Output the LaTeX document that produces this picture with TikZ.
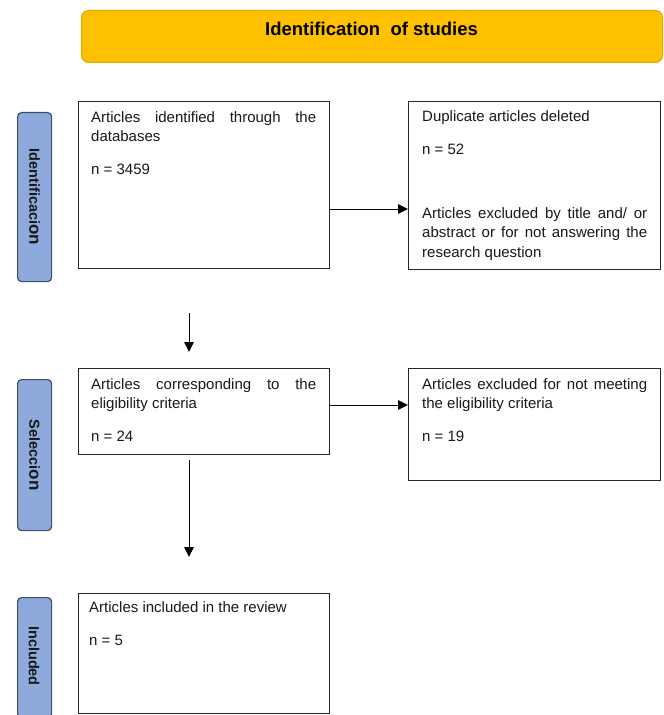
\documentclass[tikz,border=0pt]{standalone}
\usepackage{fontspec}
\setmainfont{Liberation Sans}
\usetikzlibrary{arrows.meta,calc}
\definecolor{hdrfill}{HTML}{FFC000}
\definecolor{hdrdraw}{HTML}{E0A800}
\definecolor{sidefill}{HTML}{8EA9DB}
\definecolor{sidedraw}{HTML}{3E4E6C}
\definecolor{boxdraw}{HTML}{262626}
\hyphenpenalty=10000
\exhyphenpenalty=10000
\begin{document}
\begin{tikzpicture}[x=1bp,y=-1bp,
  box/.style={draw=boxdraw, line width=1bp, fill=white, inner sep=0pt, anchor=north west},
  txt/.style={inner sep=0pt, anchor=north west, text width=225bp, align=justify, text=black!90,
    font=\fontsize{15bp}{19.3bp}\selectfont},
  hdr/.style={draw=hdrdraw, line width=1bp, fill=hdrfill, rounded corners=7bp, inner sep=0pt, anchor=north west},
  side/.style={draw=sidedraw, line width=1.2bp, fill=sidefill, rounded corners=4bp, inner sep=0pt, anchor=north west},
  sidetxt/.style={rotate=-90, inner sep=0pt, text=black!90, font=\bfseries\fontsize{14.5bp}{16bp}\selectfont},
  arr/.style={draw=black, line width=1bp, -{Triangle[length=10bp,width=9.5bp]}}
]
\useasboundingbox (0,0) rectangle (664,715);

% header
\node[hdr, minimum width=581bp, minimum height=52bp] (H) at (81,10) {};
\node[inner sep=0pt, font=\bfseries\fontsize{18.5bp}{22bp}\selectfont] (Ht) at (371.5,29) {Identification\ \ of studies};

% side labels
\node[side, minimum width=34bp, minimum height=169bp] (S1) at (17,112) {};
\node[sidetxt] (S1t) at (S1.center) {Identificaci{\fontsize{17bp}{17bp}\selectfont on}};
\node[side, minimum width=34bp, minimum height=151bp] (S2) at (17,379) {};
\node[sidetxt] (S2t) at (S2.center) {Selecci{\fontsize{17bp}{17bp}\selectfont on}};
\node[side, minimum width=34bp, minimum height=120bp] (S3) at (17,597) {};
\node[sidetxt] (S3t) at (34,656) {Included};

% boxes
\node[box, minimum width=251bp, minimum height=167bp] (A) at (78,101) {};
\node[txt] (At) at (91,111) {Articles identified through the databases\\[13.7bp] n = 3459};

\node[box, minimum width=252bp, minimum height=168bp] (B) at (408,101) {};
\node[txt] (Bt) at (422,110.5) {Duplicate articles deleted\\[13.7bp] n = 52\\[44.7bp] Articles excluded by title and/ or abstract or for not answering the research question};

\node[box, minimum width=251bp, minimum height=86bp] (C) at (78,368) {};
\node[txt] (Ct) at (91,378) {Articles corresponding to the eligibility criteria\\[13.7bp] n = 24};

\node[box, minimum width=252bp, minimum height=112bp] (D) at (408,368) {};
\node[txt] (Dt) at (422,378) {Articles excluded for not meeting the eligibility criteria\\[13.7bp] n = 19};

\node[box, minimum width=251bp, minimum height=120bp] (E) at (78,593) {};
\node[txt] (Et) at (89,601) {Articles included in the review\\[13.7bp] n = 5};

% connectors
\coordinate (ab) at (0,209);
\draw[arr] (A.east |- ab) -- (B.west |- ab);
\coordinate (cd) at (0,405);
\draw[arr] (C.east |- cd) -- (D.west |- cd);
\coordinate (v1) at (189,313);
\coordinate (v2) at (189,352);
\draw[arr] (v1) -- (v2);
\coordinate (cx) at (189,0);
\coordinate (c1) at ([yshift=-5bp]C.south);
\coordinate (e1) at ([yshift=36bp]E.north);
\draw[arr] (c1 -| cx) -- (e1 -| cx);
\end{tikzpicture}
\end{document}
